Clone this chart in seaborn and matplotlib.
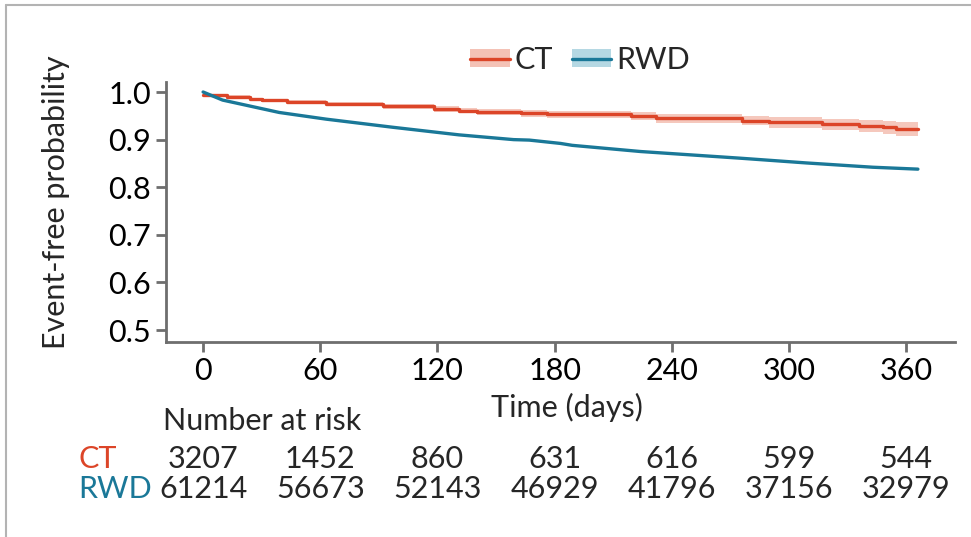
import matplotlib
matplotlib.use("Agg")
import matplotlib.pyplot as plt
import matplotlib.transforms as mtransforms
from matplotlib.lines import Line2D
from matplotlib.patches import Patch
import seaborn as sns
import pandas as pd

# ---------------- data ----------------
ct_days = [0, 12, 24, 30, 43, 63, 92, 118, 131, 140, 163, 176, 219, 232, 276, 290, 317, 336, 348, 355, 366]
ct_surv = [0.994, 0.990, 0.985, 0.983, 0.979, 0.974, 0.970, 0.965, 0.961, 0.958, 0.955, 0.953,
           0.950, 0.945, 0.940, 0.936, 0.933, 0.929, 0.926, 0.922, 0.922]
ct_upper = [0.996, 0.993, 0.988, 0.986, 0.983, 0.978, 0.975, 0.970, 0.967, 0.964, 0.962, 0.960,
            0.958, 0.954, 0.950, 0.947, 0.944, 0.941, 0.939, 0.936, 0.936]
ct_lower = [0.992, 0.987, 0.982, 0.980, 0.975, 0.970, 0.965, 0.959, 0.955, 0.951, 0.947, 0.945,
            0.941, 0.935, 0.930, 0.925, 0.921, 0.916, 0.912, 0.907, 0.907]

rwd_days = [0, 10, 39, 63, 97, 131, 159, 167, 183, 189, 224, 275, 309, 343, 366]
rwd_surv = [1.000, 0.983, 0.957, 0.943, 0.926, 0.910, 0.900, 0.899, 0.892, 0.888, 0.875, 0.861, 0.851, 0.842, 0.838]
rwd_upper = [1.000, 0.984, 0.958, 0.944, 0.927, 0.911, 0.901, 0.900, 0.893, 0.889, 0.876, 0.862, 0.852, 0.843, 0.839]
rwd_lower = [1.000, 0.982, 0.956, 0.942, 0.925, 0.909, 0.899, 0.898, 0.891, 0.887, 0.874, 0.860, 0.850, 0.841, 0.837]

x_ticks = [0, 60, 120, 180, 240, 300, 360]
y_ticks = [0.5, 0.6, 0.7, 0.8, 0.9, 1.0]
risk_ct = [3207, 1452, 860, 631, 616, 599, 544]
risk_rwd = [61214, 56673, 52143, 46929, 41796, 37156, 32979]

groups = ["CT", "RWD"]
line_colors = {"CT": "#dc4528", "RWD": "#1a7898"}
fill_colors = {"CT": "#f4c2b6", "RWD": "#b5d8e3"}

# ---------------- style ----------------
sns.set_theme(style="ticks")
FONT = ["Lato", "DejaVu Sans"]
plt.rcParams["font.family"] = FONT
FS = 22
SPINE = "#6e6e6e"

W, H = 971, 537
fig = plt.figure(figsize=(W / 100, H / 100), dpi=100)
ax = fig.add_axes([166 / W, 1 - 342 / H, (955 - 166) / W, (342 - 82) / H])

df_ct = pd.DataFrame({"day": ct_days, "surv": ct_surv, "group": "CT"})
df_rwd = pd.DataFrame({"day": rwd_days, "surv": rwd_surv, "group": "RWD"})

ax.fill_between(ct_days, ct_lower, ct_upper, step="post", color=fill_colors["CT"], lw=0, alpha=0.9)
ax.fill_between(rwd_days, rwd_lower, rwd_upper, color=fill_colors["RWD"], lw=0)

sns.lineplot(data=df_ct, x="day", y="surv", ax=ax, color=line_colors["CT"], lw=2.4,
             drawstyle="steps-post", estimator=None, legend=False)
sns.lineplot(data=df_rwd, x="day", y="surv", ax=ax, color=line_colors["RWD"], lw=2.4,
             estimator=None, legend=False)

ax.set_xlim(-19, 385)
ax.set_ylim(0.475, 1.021)
ax.set_xticks(x_ticks)
ax.set_yticks(y_ticks)
ax.set_yticklabels([f"{v:.1f}" for v in y_ticks])
ax.tick_params(axis="both", labelsize=FS, length=7, width=2, color=SPINE, labelcolor="black", pad=4)
for side in ["top", "right"]:
    ax.spines[side].set_visible(False)
for side in ["left", "bottom"]:
    ax.spines[side].set_color(SPINE)
    ax.spines[side].set_linewidth(2)
ax.set_xlabel("")
ax.set_ylabel("")

fig.text(567 / W, 1 - 407 / H, "Time (days)", ha="center", va="center", fontsize=FS)
fig.text(56 / W, 1 - 202 / H, "Event-free probability", ha="center", va="center",
         rotation=90, fontsize=FS)

# ---------------- legend ----------------
handles = [(Patch(facecolor=fill_colors[g], edgecolor="none"),
            Line2D([], [], color=line_colors[g], lw=2.4)) for g in groups]
fig.legend(handles, groups, loc="center", bbox_to_anchor=(580 / W, 1 - 60 / H),
           ncol=2, frameon=False, fontsize=FS, handlelength=1.3, handleheight=0.5,
           handletextpad=0.15, columnspacing=0.6)

# ---------------- number at risk ----------------
fig.text(163 / W, 1 - 421 / H, "Number at risk", ha="left", va="center", fontsize=FS)
trans = mtransforms.blended_transform_factory(ax.transData, fig.transFigure)
y_ct = 1 - 459 / H
y_rwd = 1 - 489 / H
fig.text(78 / W, y_ct, "CT", ha="left", va="center", fontsize=FS, color=line_colors["CT"])
fig.text(78 / W, y_rwd, "RWD", ha="left", va="center", fontsize=FS, color=line_colors["RWD"])
for xd, a, b in zip(x_ticks, risk_ct, risk_rwd):
    ax.text(xd, y_ct, str(a), transform=trans, ha="center", va="center", fontsize=FS, clip_on=False)
    ax.text(xd, y_rwd, str(b), transform=trans, ha="center", va="center", fontsize=FS, clip_on=False)

# ---------------- frame (screenshot edge) ----------------
fig.add_artist(Line2D([6 / W, 1], [1 - 5 / H, 1 - 5 / H], transform=fig.transFigure, color="#b3b3b3", lw=1.5))
fig.add_artist(Line2D([6 / W, 6 / W], [0, 1 - 5 / H], transform=fig.transFigure, color="#b3b3b3", lw=1.5))

fig.savefig("out.png", dpi=100, facecolor="white")
